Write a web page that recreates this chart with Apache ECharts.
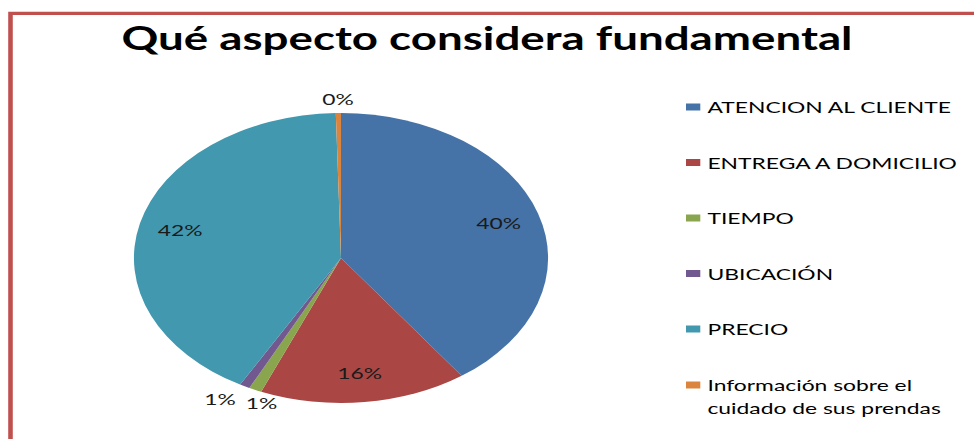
<!DOCTYPE html>
<html>
<head>
<meta charset="utf-8">
<script src="https://cdn.jsdelivr.net/npm/echarts@6/dist/echarts.min.js"></script>
<style>
html,body{margin:0;padding:0;background:#fff;overflow:hidden;width:974px;height:439px;}
#chart{position:absolute;left:0;top:0;width:682px;height:439px;transform:scaleX(1.428);transform-origin:0 0;}
</style>
</head>
<body>
<div id="chart"></div>
<script>
// ---- data ----
const titleText = 'Qué aspecto considera fundamental';
const categories = ['ATENCION AL CLIENTE', 'ENTREGA A DOMICILIO', 'TIEMPO', 'UBICACIÓN', 'PRECIO', 'Información sobre el cuidado de sus prendas'];
const values = [40.1, 16.2, 1.0, 0.8, 41.5, 0.4];
const colors = ['#4572A7', '#AA4643', '#89A54E', '#71588F', '#4198AF', '#DB843D'];

// ---- layout constants ----
const CX = 238.8, CY = 258, R = 145;
const FONT = 'Lato';

// label positions derived from the data (inside for big slices, outside for small)
const total = values.reduce((a, b) => a + b, 0);
let acc = 0;
const labelPos = values.map(v => {
  const mid = (acc + v / 2) / total * 2 * Math.PI;
  acc += v;
  const outside = v / total < 0.05;
  const f = outside ? 1.1 : 0.8;
  return { x: CX + f * R * Math.sin(mid), y: CY - f * R * Math.cos(mid), outside };
});
// push apart overlapping outside labels horizontally
const minSep = 29, lblH = 18;
for (let i = 0; i < labelPos.length; i++) {
  for (let j = i + 1; j < labelPos.length; j++) {
    const a = labelPos[i], b = labelPos[j];
    if (!a.outside || !b.outside) continue;
    if (Math.abs(a.y - b.y) < lblH && Math.abs(a.x - b.x) < minSep) {
      const need = (minSep - Math.abs(a.x - b.x)) / 2;
      const s = a.x >= b.x ? 1 : -1;
      a.x += s * need; b.x -= s * need;
    }
  }
}

const chart = echarts.init(document.getElementById('chart'), null, { renderer: 'svg' });
const pieData = categories.map((c, i) => ({ name: c, value: values[i], itemStyle: { color: colors[i] } }));
const lastName = categories[categories.length - 1];

chart.setOption({
  animation: false,
  backgroundColor: '#ffffff',
  title: {
    text: titleText,
    left: 'center',
    top: 21,
    padding: 0,
    textStyle: { fontFamily: FONT, fontWeight: 'bold', fontSize: 32, color: '#000' }
  },
  graphic: [{
    type: 'rect',
    shape: { x: 7.35, y: 13.3, width: 3000, height: 3000 },
    style: { fill: 'none', stroke: '#C0504D', lineWidth: 3.2 },
    silent: true
  }],
  legend: [{
    orient: 'vertical',
    left: 480.4,
    top: 97,
    padding: 0,
    icon: 'rect',
    itemWidth: 10,
    itemHeight: 7,
    itemGap: 35.5,
    selectedMode: false,
    data: categories.slice(0, 5),
    textStyle: { fontFamily: FONT, fontSize: 16, color: '#000', lineHeight: 20 }
  }, {
    orient: 'vertical',
    left: 480.4,
    top: 350.5,
    padding: 0,
    icon: 'rect',
    itemWidth: 10,
    itemHeight: 7,
    selectedMode: false,
    data: [lastName],
    formatter: n => '\n' + n.replace(' el ', ' el\n'),
    textStyle: { fontFamily: FONT, fontSize: 16, color: '#000', lineHeight: 23 }
  }],
  series: [{
    type: 'pie',
    center: [CX, CY],
    radius: R,
    startAngle: 90,
    clockwise: true,
    avoidLabelOverlap: false,
    emphasis: { disabled: true },
    itemStyle: { borderWidth: 0 },
    labelLine: { show: false },
    label: {
      show: true,
      position: 'inside',
      formatter: p => Math.round(p.value) + '%',
      fontFamily: FONT,
      fontSize: 16,
      color: '#1a1a1a'
    },
    labelLayout: p => ({ x: labelPos[p.dataIndex].x, y: labelPos[p.dataIndex].y, align: 'center', verticalAlign: 'middle' }),
    data: pieData
  }]
});
</script>
</body>
</html>
